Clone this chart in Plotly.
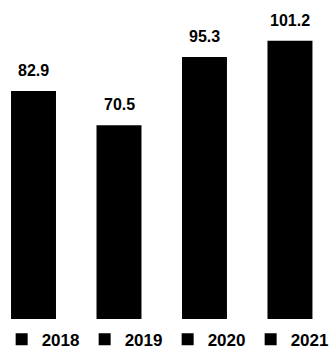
import plotly.graph_objects as go

years = ["2018", "2019", "2020", "2021"]
values = [82.9, 70.5, 95.3, 101.2]
bar_color = "#000000"

fig = go.Figure()
for i, (yr, v) in enumerate(zip(years, values)):
    fig.add_trace(go.Bar(
        x=[yr], y=[v], name=yr, marker=dict(color=bar_color, line=dict(width=0)),
        width=0.526, showlegend=True,
    ))
    fig.add_annotation(
        x=i, y=v, text=f"{v:.1f}", showarrow=False, yanchor="bottom", yshift=10,
        font=dict(family="Liberation Sans", size=16, color="#000000", weight="bold"),
    )

fig.update_layout(
    width=331, height=349,
    margin=dict(l=0, r=0, t=0, b=30, autoexpand=False),
    plot_bgcolor="white", paper_bgcolor="white",
    barmode="overlay",
    xaxis=dict(type="category", range=[-0.392, 3.480], visible=False, fixedrange=True),
    yaxis=dict(range=[0, 116], visible=False, fixedrange=True),
    legend=dict(
        orientation="h", x=0.005, xanchor="left", y=-0.121, yanchor="bottom",
        font=dict(family="Liberation Sans", size=17, color="#000000", weight="bold"),
        entrywidth=38, entrywidthmode="pixels", itemclick=False, itemdoubleclick=False,
        bgcolor="rgba(0,0,0,0)",
    ),
    showlegend=True,
)

fig.write_html("out.html")
